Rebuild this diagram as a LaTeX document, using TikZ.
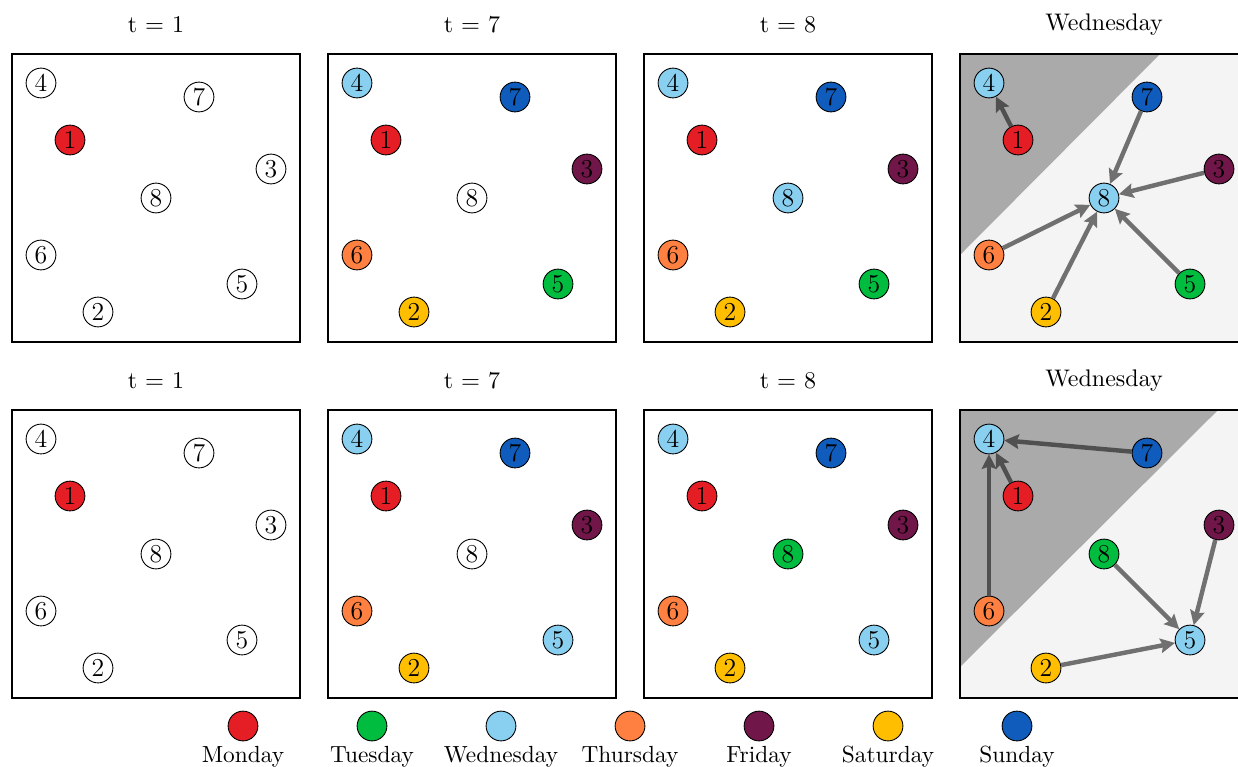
\documentclass[tikz,border=0pt]{standalone}
\usetikzlibrary{arrows.meta, positioning}

\definecolor{mon}{HTML}{E41E24}
\definecolor{tue}{HTML}{00BD40}
\definecolor{wed}{HTML}{89CFF0}
\definecolor{thu}{HTML}{FF8040}
\definecolor{fri}{HTML}{701648}
\definecolor{sat}{HTML}{FFBF00}
\definecolor{sun}{HTML}{105CBC}
\definecolor{shadelight}{HTML}{F4F4F4}
\definecolor{shadedark}{HTML}{AAAAAA}
\definecolor{linkgray}{HTML}{707070}
\definecolor{linkdark}{HTML}{505050}

% the eight day nodes of one panel: #1 = panel name, #2..#9 = colours of nodes 1..8
\newcommand{\daynodes}[9]{%
  \node[day, fill=#5] (#1-4) at (29,29) {4};
  \node[day, fill=#8] (#1-7) at (187,43) {7};
  \node[day, fill=#2] (#1-1) at (58,86) {1};
  \node[day, fill=#4] (#1-3) at (259,115) {3};
  \node[day, fill=#9] (#1-8) at (144,144) {8};
  \node[day, fill=#7] (#1-6) at (29,201) {6};
  \node[day, fill=#6] (#1-5) at (230,230) {5};
  \node[day, fill=#3] (#1-2) at (86,258) {2};
}

\begin{document}
\begin{tikzpicture}[
  x=0.45pt, y=-0.45pt,
  font=\fontsize{10.5}{12.6}\selectfont,
  day/.style={circle, draw, line width=0.4pt, minimum size=13.4pt, inner sep=0pt, fill=white,
    font=\fontsize{11.6}{14}\selectfont},
  box/.style={draw, line width=0.6pt},
  title/.style={font=\fontsize{10.8}{13}\selectfont},
  link/.style={-{Stealth[length=6.5pt, width=6.5pt, inset=1pt]}, line width=2pt, draw=linkgray},
  darklink/.style={link, draw=linkdark},
]
\useasboundingbox (0,0) rectangle (1238,766);

% top row
\node[title] (a1-t) at (156,25) {t $=$ 1};
\node[title] (a2-t) at (472,25) {t $=$ 7};
\node[title] (a3-t) at (788,25) {t $=$ 8};
\node[title] (a4-t) at (1104,25) {Wednesday};

\begin{scope}[shift={(12,54)}]
\draw[box] (0,0) rectangle (288,288);
\daynodes{a1}{mon}{white}{white}{white}{white}{white}{white}{white}
\end{scope}

\begin{scope}[shift={(328,54)}]
\draw[box] (0,0) rectangle (288,288);
\daynodes{a2}{mon}{sat}{fri}{wed}{tue}{thu}{sun}{white}
\end{scope}

\begin{scope}[shift={(644,54)}]
\draw[box] (0,0) rectangle (288,288);
\daynodes{a3}{mon}{sat}{fri}{wed}{tue}{thu}{sun}{wed}
\end{scope}

\begin{scope}[shift={(960,54)}]
\fill[shadelight] (0,0) rectangle (288,288);
\fill[shadedark] (0,0) -- (200,0) -- (0,201) -- cycle;
\draw[box] (0,0) rectangle (288,288);
\daynodes{a4}{mon}{sat}{fri}{wed}{tue}{thu}{sun}{wed}
\draw[darklink] (a4-1) -- (a4-4);
\draw[link] (a4-7) -- (a4-8);
\draw[link] (a4-3) -- (a4-8);
\draw[link] (a4-6) -- (a4-8);
\draw[link] (a4-2) -- (a4-8);
\draw[link] (a4-5) -- (a4-8);
\end{scope}

% bottom row
\node[title] (b1-t) at (156,381) {t $=$ 1};
\node[title] (b2-t) at (472,381) {t $=$ 7};
\node[title] (b3-t) at (788,381) {t $=$ 8};
\node[title] (b4-t) at (1104,381) {Wednesday};

\begin{scope}[shift={(12,410)}]
\draw[box] (0,0) rectangle (288,288);
\daynodes{b1}{mon}{white}{white}{white}{white}{white}{white}{white}
\end{scope}

\begin{scope}[shift={(328,410)}]
\draw[box] (0,0) rectangle (288,288);
\daynodes{b2}{mon}{sat}{fri}{wed}{wed}{thu}{sun}{white}
\end{scope}

\begin{scope}[shift={(644,410)}]
\draw[box] (0,0) rectangle (288,288);
\daynodes{b3}{mon}{sat}{fri}{wed}{wed}{thu}{sun}{tue}
\end{scope}

\begin{scope}[shift={(960,410)}]
\fill[shadelight] (0,0) rectangle (288,288);
\fill[shadedark] (0,0) -- (258,0) -- (0,257) -- cycle;
\draw[box] (0,0) rectangle (288,288);
\daynodes{b4}{mon}{sat}{fri}{wed}{wed}{thu}{sun}{tue}
\draw[darklink] (b4-7) -- (b4-4);
\draw[darklink] (b4-1) -- (b4-4);
\draw[darklink] (b4-6) -- (b4-4);
\draw[link] (b4-8) -- (b4-5);
\draw[link] (b4-3) -- (b4-5);
\draw[link] (b4-2) -- (b4-5);
\end{scope}

% legend
\node[day, fill=mon] (k-mon) at (243,726) {};
\node[day, fill=tue] (k-tue) at (372,726) {};
\node[day, fill=wed] (k-wed) at (501,726) {};
\node[day, fill=thu] (k-thu) at (630,726) {};
\node[day, fill=fri] (k-fri) at (759,726) {};
\node[day, fill=sat] (k-sat) at (888,726) {};
\node[day, fill=sun] (k-sun) at (1017,726) {};
\node[below=-1.5pt of k-mon] (k-mon-t) {Monday};
\node[below=-1.5pt of k-tue] (k-tue-t) {Tuesday};
\node[below=-1.5pt of k-wed] (k-wed-t) {Wednesday};
\node[below=-1.5pt of k-thu] (k-thu-t) {Thursday};
\node[below=-1.5pt of k-fri] (k-fri-t) {Friday};
\node[below=-1.5pt of k-sat] (k-sat-t) {Saturday};
\node[below=-1.5pt of k-sun] (k-sun-t) {Sunday};
\end{tikzpicture}
\end{document}
